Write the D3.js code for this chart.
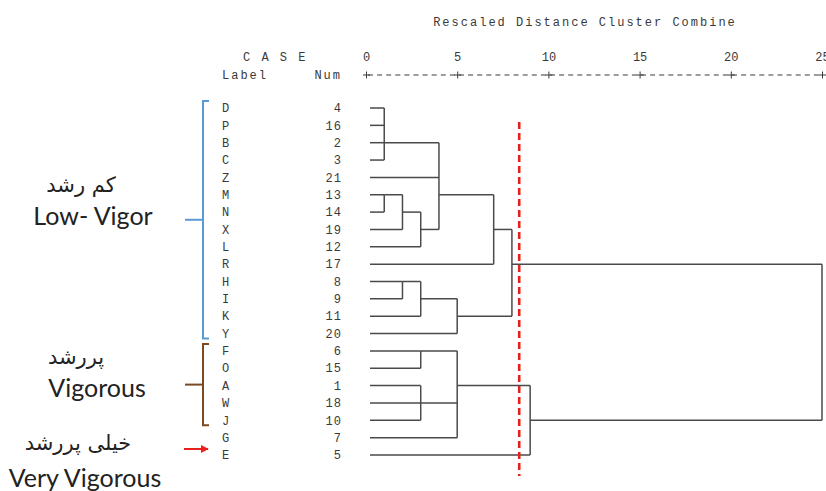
<!DOCTYPE html>
<html><head><meta charset="utf-8">
<script src="https://cdn.jsdelivr.net/npm/d3@7"></script>
<style>body{margin:0;background:#fff}svg{display:block}</style>
</head><body>
<svg id="c" width="826" height="491"></svg>
<script>
const labels = ["D","P","B","C","Z","M","N","X","L","R","H","I","K","Y","F","O","A","W","J","G","E"];
const nums = [4,16,2,3,21,13,14,19,12,17,8,9,11,20,6,15,1,18,10,7,5];
const tickValues = [0,5,10,15,20,25];
// merges: children (leaf row index or merge id), rescaled distance, row where the joined branch leaves
const merges = [
  {id:"a", kids:[0,1,2,3], d:1, row:2},
  {id:"b", kids:[5,6], d:1, row:5},
  {id:"c", kids:["b",7], d:2, row:6},
  {id:"d", kids:["c",8], d:3, row:7},
  {id:"e", kids:["a",4,"d"], d:4, row:5},
  {id:"f", kids:["e",9], d:7, row:7},
  {id:"g", kids:[10,11], d:2, row:10},
  {id:"h", kids:["g",12], d:3, row:11},
  {id:"i", kids:["h",13], d:5, row:12},
  {id:"j", kids:["f","i"], d:8, row:9},
  {id:"k", kids:[14,15], d:3, row:14},
  {id:"l", kids:[16,17,18], d:3, row:17},
  {id:"m", kids:["k","l",19], d:5, row:16},
  {id:"n", kids:["m",20], d:9, row:18},
  {id:"o", kids:["j","n"], d:25, row:null}
];
const cutDistance = 8.4;
const groups = [
  {fa:"کم رشد", en:"Low- Vigor", from:0, to:13, color:"#5b9bd5", type:"bracket"},
  {fa:"پررشد", en:"Vigorous", from:14, to:18, color:"#7b4a22", type:"bracket"},
  {fa:"خیلی پررشد", en:"Very Vigorous", from:20, to:20, color:"#e8201c", type:"arrow"}
];

const svg = d3.select("#c");
const mono = "'Liberation Mono','DejaVu Sans Mono',monospace";
const x = d3.scaleLinear().domain([0,25]).range([366,822]);
const y = d3.scaleLinear().domain([0,20]).range([108,455]);
const leafStart = x(0) + 4;
const lineColor = "#4a4a4a";
const textColor = "#3a3a3a";

// title
svg.append("text").attr("x",585).attr("y",26).attr("text-anchor","middle")
  .attr("font-family",mono).attr("font-size",12).attr("letter-spacing",2)
  .attr("fill",textColor).text("Rescaled Distance Cluster Combine");
svg.append("text").attr("x",243).attr("y",61).attr("font-family",mono).attr("font-size",12)
  .attr("letter-spacing",2).attr("fill",textColor).text("C A S E");
svg.append("text").attr("x",222).attr("y",79).attr("font-family",mono).attr("font-size",12)
  .attr("letter-spacing",2).attr("fill",textColor).text("Label");
svg.append("text").attr("x",342).attr("y",79).attr("text-anchor","end").attr("font-family",mono).attr("font-size",12)
  .attr("letter-spacing",2).attr("fill",textColor).text("Num");

// axis
const axisG = svg.append("g").attr("transform","translate(0,75)");
axisG.append("line").attr("x1",x(0)).attr("x2",x(25)).attr("y1",0).attr("y2",0)
  .attr("stroke",textColor).attr("stroke-width",1).attr("stroke-dasharray","5,4.1")
  .attr("stroke-dashoffset",-2);
const ax = d3.axisTop(x).tickValues(tickValues).tickSize(0).tickPadding(14).tickFormat(d3.format("d"));
axisG.call(ax);
axisG.select(".domain").remove();
axisG.selectAll(".tick text").attr("font-family",mono).attr("font-size",12).attr("fill",textColor);
axisG.selectAll(".tick").append("path").attr("d","M-3.5,0H3.5M0,-3.5V3.5")
  .attr("stroke",textColor).attr("stroke-width",1);

// row labels
const rows = svg.append("g");
labels.forEach((l,i)=>{
  rows.append("text").attr("x",222).attr("y",y(i)).attr("dy","0.35em")
    .attr("font-family",mono).attr("font-size",12).attr("fill",textColor).text(l);
  rows.append("text").attr("x",342).attr("y",y(i)).attr("dy","0.35em").attr("text-anchor","end")
    .attr("font-family",mono).attr("font-size",12).attr("fill",textColor).attr("letter-spacing",1).text(nums[i]);
});

// dendrogram
const info = {};
const g = svg.append("g").attr("stroke",lineColor).attr("stroke-width",1.5).attr("fill","none");
merges.forEach(m=>{
  const kidInfo = m.kids.map(k => typeof k === "number" ? {row:k, x0:leafStart} : {row:info[k].row, x0:x(info[k].d)});
  const xm = x(m.d);
  kidInfo.forEach(k=>{
    g.append("line").attr("x1",k.x0).attr("x2",xm).attr("y1",y(k.row)).attr("y2",y(k.row));
  });
  const rs = kidInfo.map(k=>k.row);
  g.append("line").attr("x1",xm).attr("x2",xm).attr("y1",y(d3.min(rs))).attr("y2",y(d3.max(rs)));
  info[m.id] = {row:m.row, d:m.d};
});

// cut line
svg.append("line").attr("x1",x(cutDistance)).attr("x2",x(cutDistance)).attr("y1",122).attr("y2",476)
  .attr("stroke","#e8201c").attr("stroke-width",2.6).attr("stroke-dasharray","7,4");

// groups
const sans = "Lato,'Open Sans',sans-serif";
const faFont = "'DejaVu Sans',sans-serif";
svg.append("defs").append("marker").attr("id","ah").attr("viewBox","0 0 10 10").attr("refX",9).attr("refY",5)
  .attr("markerWidth",4).attr("markerHeight",4).attr("orient","auto")
  .append("path").attr("d","M0,0L10,5L0,10z").attr("fill","#e8201c");
groups.forEach(gr=>{
  const y0 = y(gr.from)-7, y1 = y(gr.to)+ (gr.type==="bracket"? 5:0);
  const mid = (y0+y1)/2;
  if (gr.type==="bracket") {
    svg.append("path").attr("d",`M209,${y0}H203V${y1}H209`).attr("fill","none")
      .attr("stroke",gr.color).attr("stroke-width",2);
    svg.append("line").attr("x1",185).attr("x2",203).attr("y1",mid).attr("y2",mid)
      .attr("stroke",gr.color).attr("stroke-width",2);
  } else {
    const ya = y(gr.from)-6;
    svg.append("line").attr("x1",184).attr("x2",208).attr("y1",ya).attr("y2",ya)
      .attr("stroke",gr.color).attr("stroke-width",2).attr("marker-end","url(#ah)");
  }
});
// group captions
const cap = [
  {i:0, fa:[81,185], en:[93,216]},
  {i:1, fa:[76,357], en:[97,388]},
  {i:2, fa:[78,443], en:[85,478]}
];
cap.forEach(c=>{
  const gr = groups[c.i];
  svg.append("text").attr("x",c.fa[0]).attr("y",c.fa[1]).attr("dy","0.35em").attr("text-anchor","middle")
    .attr("font-family",faFont).attr("font-size",21).attr("fill","#222").attr("direction","rtl").text(gr.fa);
  svg.append("text").attr("x",c.en[0]).attr("y",c.en[1]).attr("dy","0.35em").attr("text-anchor","middle")
    .attr("font-family",sans).attr("font-size",25).attr("fill","#222").text(gr.en);
});
</script>
</body></html>
